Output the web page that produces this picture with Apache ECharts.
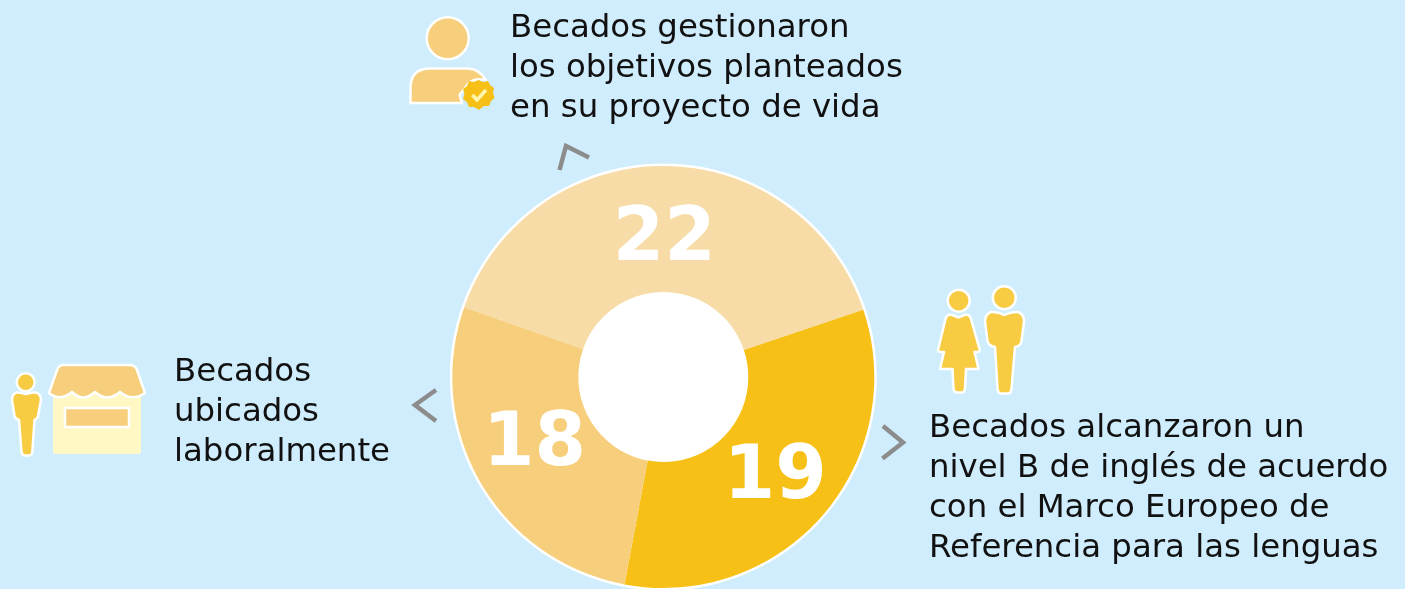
<!DOCTYPE html>
<html>
<head>
<meta charset="utf-8">
<style>
html, body { margin: 0; padding: 0; background: #cfedfc; overflow: hidden; }
#chart { width: 1405px; height: 589px; }
</style>
</head>
<body>
<div id="chart"></div>
<script src="https://cdn.jsdelivr.net/npm/echarts@6/dist/echarts.min.js"></script>
<script>
var categories = [
    'Becados gestionaron\nlos objetivos planteados\nen su proyecto de vida',
    'Becados alcanzaron un\nnivel B de inglés de acuerdo\ncon el Marco Europeo de\nReferencia para las lenguas',
    'Becados\nubicados\nlaboralmente'
];
// numbers printed on the slices
var printedValues = [22, 19, 18];
// the slices in the picture are not proportional to the printed numbers,
// so the arc sizes are read separately (degrees)
var arcDegrees = [142.1, 119.2, 98.7];
var sliceColors = ['#f7dca7', '#f7c016', '#f7cf7c'];
var labelOffsets = [[0, 15], [-2, 3], [2, -7]];

var textFont = 'DejaVu Sans';
var white = '#ffffff';
var manColor = '#f7cb42';
var softColor = '#f7cf7c';

function text(str, x, y) {
    return {
        type: 'text', x: x, y: y, silent: true,
        style: { text: str, fill: '#111111', font: '400 32.4px "' + textFont + '"', lineHeight: 40.3, textVerticalAlign: 'top' }
    };
}

function chevron(points) {
    return {
        type: 'polyline', silent: true,
        shape: { points: points },
        style: { stroke: '#8c8c8c', lineWidth: 4.5, fill: null }
    };
}

function disc(cx, cy, r, fill) {
    return {
        type: 'circle', silent: true,
        shape: { cx: cx, cy: cy, r: r },
        style: { fill: fill, stroke: white, lineWidth: 2.5 }
    };
}

// free svg paths are not a graphic type, so each one is registered as a shape
var shapeCount = 0;
function freePath(d, style) {
    var name = 'iconShape' + (shapeCount++);
    echarts.graphic.registerShape(name, echarts.graphic.extendPath(d));
    return { type: name, silent: true, style: style };
}

function outline(d, fill) {
    return freePath(d, { fill: fill, stroke: white, lineWidth: 2.5, lineJoin: 'round' });
}

var chart = echarts.init(document.getElementById('chart'));
chart.setOption({
    backgroundColor: '#cfedfc',
    animation: false,
    series: [
        {
            type: 'pie', silent: true, center: [663.3, 377], radius: [0, 213.5],
            label: { show: false }, labelLine: { show: false },
            itemStyle: { color: white },
            data: [1]
        },
        {
            type: 'pie', silent: true, center: [663.3, 377], radius: [85, 211],
            startAngle: 160.7,
            avoidLabelOverlap: false,
            labelLine: { show: false },
            label: {
                show: true, position: 'inside', color: white,
                fontFamily: 'DejaVu Sans', fontWeight: 'bold', fontSize: 74,
                formatter: function (p) { return printedValues[p.dataIndex]; }
            },
            data: arcDegrees.map(function (v, i) {
                return {
                    value: v,
                    name: categories[i],
                    itemStyle: { color: sliceColors[i] },
                    label: { offset: labelOffsets[i] }
                };
            })
        }
    ],
    graphic: [
        text(categories[0], 510, 8),
        text(categories[1], 929, 408),
        text(categories[2], 174, 352),

        chevron([[559.5, 170], [566, 146], [589, 157.5]]),
        chevron([[883, 426], [903, 442.5], [882.5, 458.5]]),
        chevron([[436, 390], [415, 405], [436, 421]]),

        // person with badge
        disc(447.7, 38.3, 21, softColor),
        outline('M410.5,103 L410.5,88 Q410.5,68.5 430,68.5 L468,68.5 Q479,68.5 486,80 Q471,77 465,88 L459.5,95 L462,103 Z', softColor),
        freePath('M478.5,80 L483,82 L488,81 L490,85 L494,88 L493,93 L494.5,98 L491,101 L489,106 L484,106 L479,110 L474,107 L469,107 L467,102 L463,99 L464.5,94 L463,89 L467,86 L469,81 L474,82 Z', { fill: '#f7c016' }),
        {
            type: 'polyline', silent: true,
            shape: { points: [[472.5, 95], [477, 100], [486, 90]] },
            style: { stroke: '#fff7b0', lineWidth: 3.5, fill: null }
        },

        // man and shop on the left
        disc(25.7, 382.3, 9, manColor),
        outline('M25.7,394 Q20,392 16.5,392.5 Q12,394 12,400 L14.5,416 Q15.5,419 19,420 L21.5,452 Q22,455.5 25,455.5 L29,455.5 Q32,455.5 32.3,452 L34.5,420 Q37.5,419 38,416 L41,400 Q41,394 36,392.5 Q31,392 25.7,394 Z', manColor),
        {
            type: 'rect', silent: true,
            shape: { x: 53, y: 390, width: 88, height: 64, r: 3 },
            style: { fill: '#fff8c4' }
        },
        outline('M63,365 L130,365 Q135,365 137,370 L145,393 Q132,402 120,392 Q107,403 95,392 Q83,403 72,392 Q60,402 49,393 L57,370 Q59,365 63,365 Z', softColor),
        {
            type: 'rect', silent: true,
            shape: { x: 65, y: 408, width: 64, height: 19 },
            style: { fill: softColor, stroke: white, lineWidth: 2.5 }
        },

        // woman and man on the right
        disc(958.7, 300.7, 11, manColor),
        outline('M958.7,317.5 Q954,315.5 950.5,314.5 Q946.5,315 945.5,319 L938,350 Q938,352 941,352 L944,352 L940,369 L952.5,369 L953.5,389 Q954,392.5 957,392.5 L962,392.5 Q964.5,392.5 965,389 L966,369 L978.5,369 L974.5,352 L977.5,352 Q980,352 979.5,349 L971,319 Q970,315 966,314.5 Q962.5,315.5 958.7,317.5 Z', manColor),
        disc(1004.3, 297.7, 11.5, manColor),
        outline('M1004.3,315 Q998,311.5 991,312 Q985,314 985,322 L987.5,341 Q988.5,346 995,347 L997.5,389 Q998,393.5 1001,393.5 L1008,393.5 Q1011,393.5 1011.5,389 L1015,347 Q1021,346 1021.5,341 L1024,322 Q1024,314 1018,312 Q1011,311.5 1004.3,315 Z', manColor)
    ]
});
</script>
</body>
</html>
